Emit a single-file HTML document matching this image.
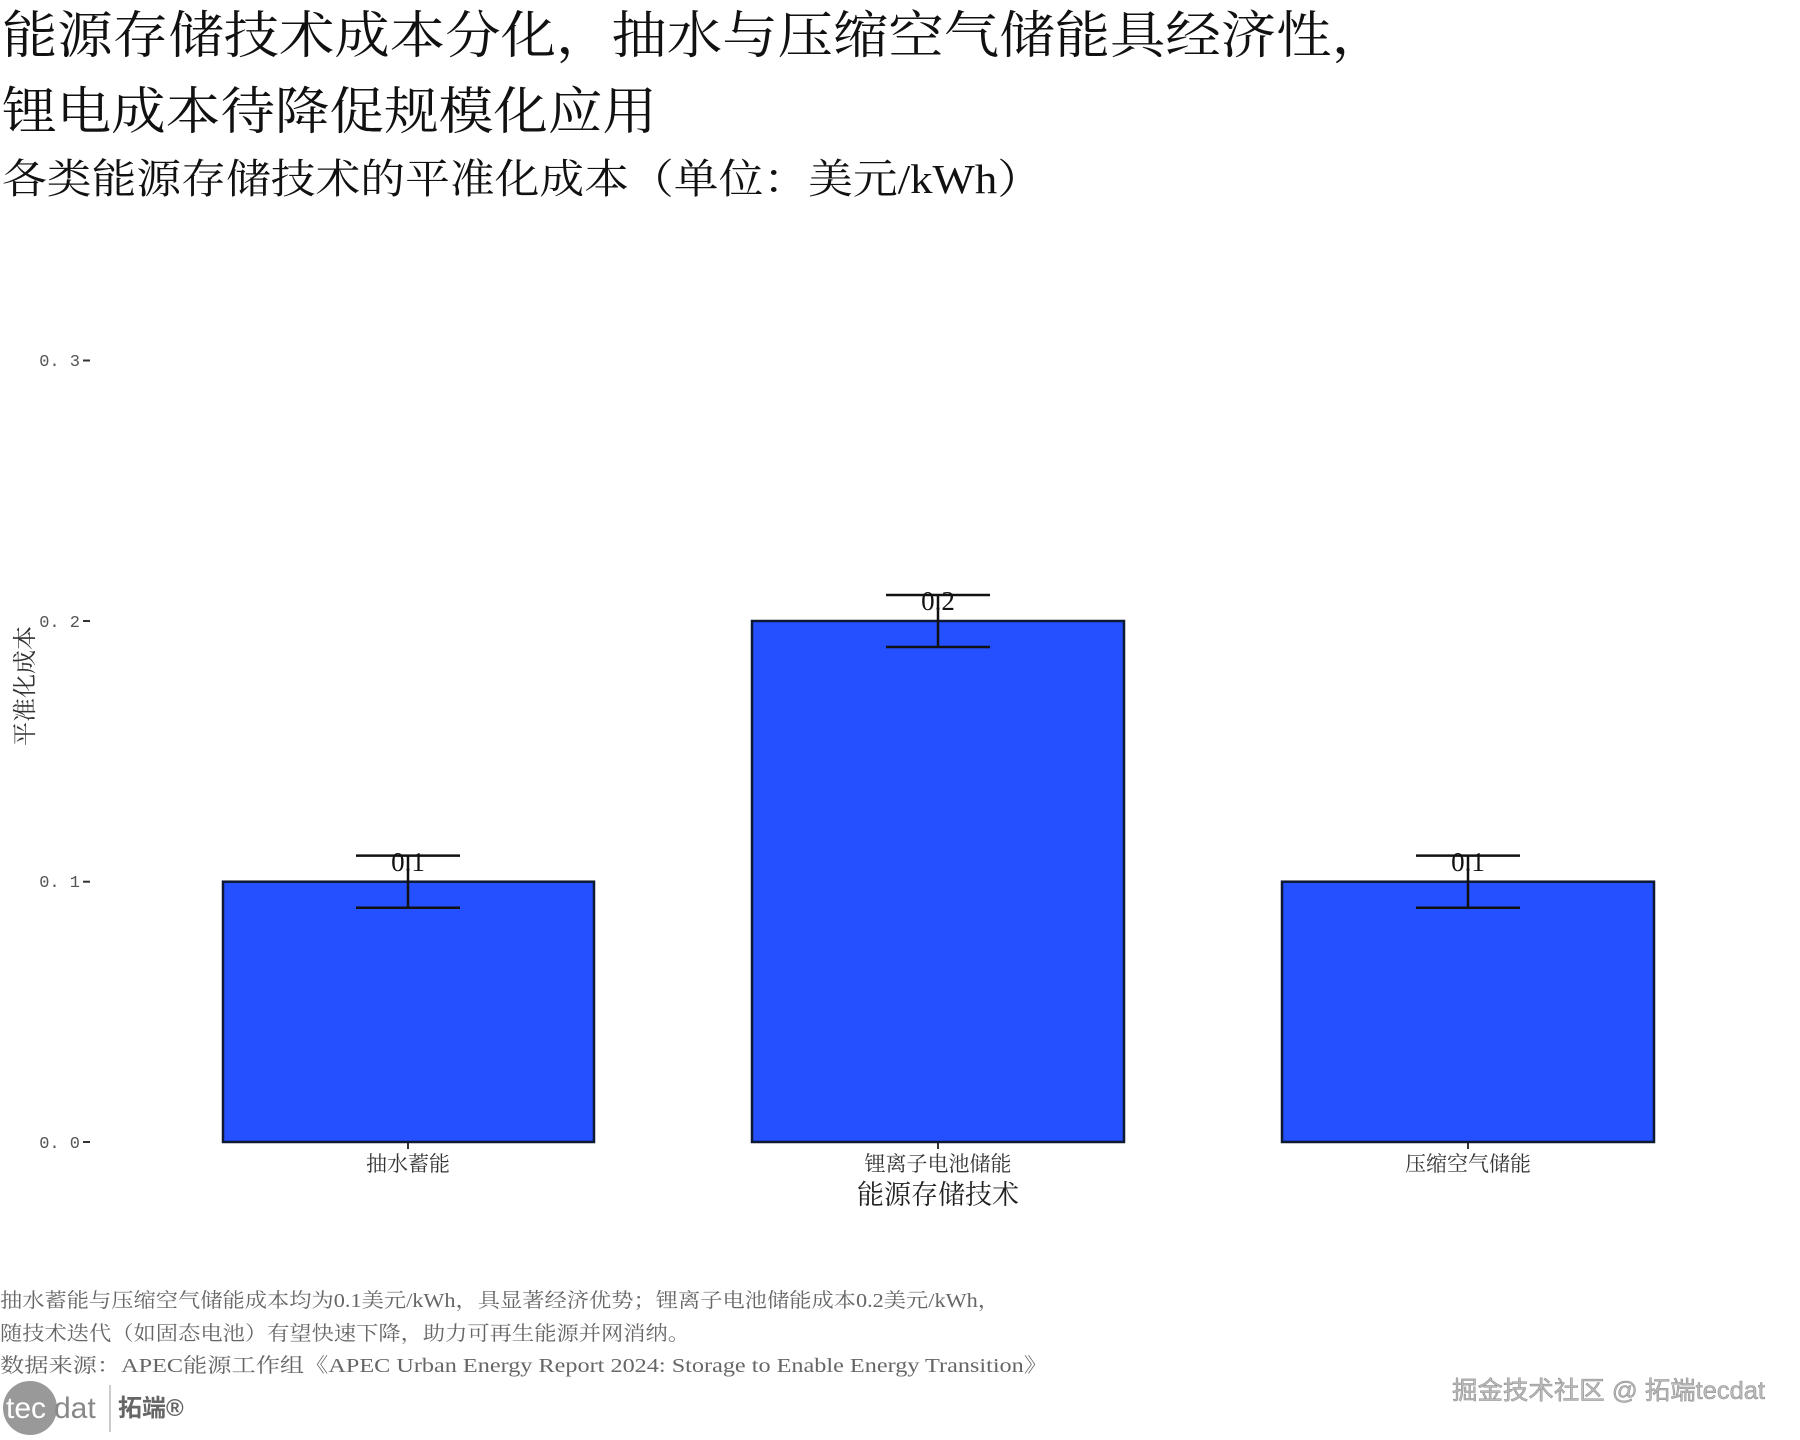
<!DOCTYPE html>
<html><head><meta charset="utf-8"><style>
html,body{margin:0;padding:0;background:#fff;}
svg{display:block;}
.s{font-family:"Liberation Serif","Noto Serif CJK SC",serif;}
</style></head><body>
<svg width="1800" height="1440" viewBox="0 0 1800 1440" xmlns="http://www.w3.org/2000/svg">
<rect width="1800" height="1440" fill="#fff"/>
<g class="s" fill="#111">
<text x="2" y="53" font-size="51" textLength="1385" lengthAdjust="spacingAndGlyphs">能源存储技术成本分化，抽水与压缩空气储能具经济性，</text>
<text x="2" y="129" font-size="51" textLength="655" lengthAdjust="spacingAndGlyphs">锂电成本待降促规模化应用</text>
<text x="2" y="193" font-size="41" textLength="1040" lengthAdjust="spacingAndGlyphs">各类能源存储技术的平准化成本（单位：美元/kWh）</text>
</g>
<g font-family="Liberation Mono, monospace" font-size="17" fill="#555" text-anchor="end">
<text x="80" y="366">0. 3</text>
<text x="80" y="627">0. 2</text>
<text x="80" y="887">0. 1</text>
<text x="80" y="1148">0. 0</text>
</g>
<g stroke="#333" stroke-width="2">
<line x1="83" y1="360.5" x2="90" y2="360.5"/>
<line x1="83" y1="621" x2="90" y2="621"/>
<line x1="83" y1="881.7" x2="90" y2="881.7"/>
<line x1="83" y1="1142" x2="90" y2="1142"/>
<line x1="408" y1="1142" x2="408" y2="1149"/>
<line x1="938" y1="1142" x2="938" y2="1149"/>
<line x1="1468" y1="1142" x2="1468" y2="1149"/>
</g>
<text class="s" transform="translate(33,686) rotate(-90)" text-anchor="middle" font-size="24" fill="#333">平准化成本</text>
<g fill="#2450ff" stroke="#0e1a33" stroke-width="2.5">
<rect x="223" y="881.7" width="371" height="260.3"/>
<rect x="752" y="621" width="372" height="521"/>
<rect x="1282" y="881.7" width="372" height="260.3"/>
</g>
<g stroke="#111" stroke-width="2.5">
<line x1="356" y1="855.6" x2="460" y2="855.6"/><line x1="356" y1="907.8" x2="460" y2="907.8"/><line x1="408" y1="855.6" x2="408" y2="907.8"/>
<line x1="886" y1="595" x2="990" y2="595"/><line x1="886" y1="647" x2="990" y2="647"/><line x1="938" y1="595" x2="938" y2="647"/>
<line x1="1416" y1="855.6" x2="1520" y2="855.6"/><line x1="1416" y1="907.8" x2="1520" y2="907.8"/><line x1="1468" y1="855.6" x2="1468" y2="907.8"/>
</g>
<g class="s" font-size="27" fill="#111" text-anchor="middle">
<text x="408" y="871">0.1</text>
<text x="938" y="610">0.2</text>
<text x="1468" y="871">0.1</text>
</g>
<g class="s" font-size="21" fill="#333" text-anchor="middle">
<text x="408" y="1171">抽水蓄能</text>
<text x="938" y="1171">锂离子电池储能</text>
<text x="1468" y="1171">压缩空气储能</text>
</g>
<text class="s" x="938" y="1204" font-size="27" fill="#222" text-anchor="middle">能源存储技术</text>
<g class="s" font-size="20" fill="#666">
<text x="0" y="1307" textLength="1000" lengthAdjust="spacingAndGlyphs">抽水蓄能与压缩空气储能成本均为0.1美元/kWh，具显著经济优势；锂离子电池储能成本0.2美元/kWh，</text>
<text x="0" y="1340" textLength="690" lengthAdjust="spacingAndGlyphs">随技术迭代（如固态电池）有望快速下降，助力可再生能源并网消纳。</text>
<text x="0" y="1372" textLength="1048" lengthAdjust="spacingAndGlyphs">数据来源：APEC能源工作组《APEC Urban Energy Report 2024: Storage to Enable Energy Transition》</text>
</g>
<circle cx="30" cy="1408" r="27" fill="#999"/>
<text x="6" y="1418" font-family="Liberation Sans, sans-serif" font-size="30" fill="#fff">tec</text>
<text x="54" y="1418" font-family="Liberation Sans, sans-serif" font-size="30" fill="#888">dat</text>
<line x1="110" y1="1385" x2="110" y2="1432" stroke="#bbb" stroke-width="1.5"/>
<text x="118" y="1416" font-family="Liberation Sans, 'Noto Sans CJK SC', sans-serif" font-size="24" font-weight="bold" fill="#666">拓端®</text>
<text x="1765" y="1399" text-anchor="end" font-family="Liberation Sans, 'Noto Sans CJK SC', sans-serif" font-size="25" fill="#bbb" stroke="#888" stroke-width="0.5" textLength="313" lengthAdjust="spacingAndGlyphs">掘金技术社区 @ 拓端tecdat</text>
</svg>
</body></html>
